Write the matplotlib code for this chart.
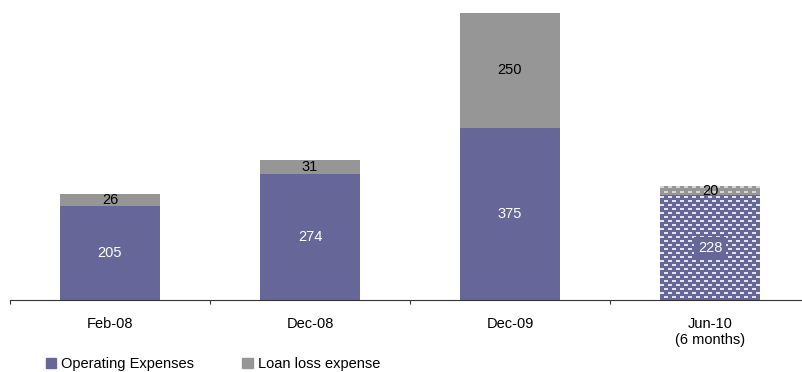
import matplotlib
matplotlib.use('Agg')
import matplotlib.pyplot as plt
from matplotlib.colors import to_rgb
import numpy as np

periods = ['Feb-08', 'Dec-08', 'Dec-09', 'Jun-10\n(6 months)']
operating = [205, 274, 375, 228]
loan_loss = [26, 31, 250, 20]

purple = '#666699'
grey = '#969696'

plt.rcParams['font.family'] = ['Liberation Sans', 'DejaVu Sans']
plt.rcParams['font.size'] = 10.5

W, H = 802, 372
fig = plt.figure(figsize=(W / 100, H / 100), dpi=100)
ax = fig.add_axes([10 / W, 1 - 300 / H, 800 / W, 300 / H])
ax.set_xlim(-0.5, len(periods) - 0.5)
ax.set_ylim(0, 653)

ind = np.arange(len(periods))
width = 0.5

bars_op = ax.bar(ind, operating, width, color=purple, linewidth=0)
bars_ll = ax.bar(ind, loan_loss, width, bottom=operating, color=grey, linewidth=0)


def brick_texture(rect, base, dash):
    """Fill a bar with offset rows of short light dashes (clipped to the bar)."""
    x0, y0 = rect.get_x(), rect.get_y()
    x1, y1 = x0 + rect.get_width(), y0 + rect.get_height()
    (px0, py0), (px1, py1) = ax.transData.transform([(x0, y0), (x1, y1)])
    wpx, hpx = int(round(px1 - px0)), int(round(py1 - py0))
    tile = np.zeros((8, 8), dtype=bool)
    tile[1:3, 0:4] = True
    tile[5:7, 4:8] = True
    mask = np.tile(tile, (hpx // 8 + 2, wpx // 8 + 2))[:hpx, :wpx]
    img = np.where(mask[..., None], to_rgb(dash), to_rgb(base))
    im = ax.imshow(img, extent=(x0, x1, y0, y1), origin='upper',
                   interpolation='nearest', aspect='auto', zorder=1.5)
    im.set_clip_path(rect)


# last period is a half-year figure, drawn with a texture
brick_texture(bars_op[-1], purple, '#e4e4f0')
brick_texture(bars_ll[-1], grey, '#d6d6d6')
ax.set_xlim(-0.5, len(periods) - 0.5)
ax.set_ylim(0, 653)

for i in ind:
    op_kw = {}
    if i == ind[-1]:
        op_kw['bbox'] = dict(boxstyle='square,pad=0.25', facecolor=purple, edgecolor='none')
    ax.text(i, operating[i] / 2, str(operating[i]), ha='center', va='center',
            color='white', zorder=3, **op_kw)
    ax.text(i, operating[i] + loan_loss[i] / 2, str(loan_loss[i]),
            ha='center', va='center', color='black', zorder=3)

ax.set_xticks(ind)
ax.set_xticklabels(periods)
ax.set_xticks(np.arange(len(periods) + 1) - 0.5, minor=True)
ax.tick_params(axis='x', which='major', length=0, pad=12)
ax.tick_params(axis='x', which='minor', length=3, width=0.8, color='#333333')
ax.set_yticks([])
for side in ('left', 'right', 'top'):
    ax.spines[side].set_visible(False)
ax.spines['bottom'].set_color('#333333')
ax.spines['bottom'].set_linewidth(0.8)

handles = [plt.Rectangle((0, 0), 1, 1, color=purple),
           plt.Rectangle((0, 0), 1, 1, color=grey)]
fig.legend(handles, ['Operating Expenses', 'Loan loss expense'], ncol=2,
           loc='center left', bbox_to_anchor=(46 / W, 1 - 364 / H),
           frameon=False, borderpad=0, borderaxespad=0,
           handlelength=0.7, handleheight=0.7, handletextpad=0.35,
           columnspacing=3.3)

fig.savefig('out.png', dpi=100)
